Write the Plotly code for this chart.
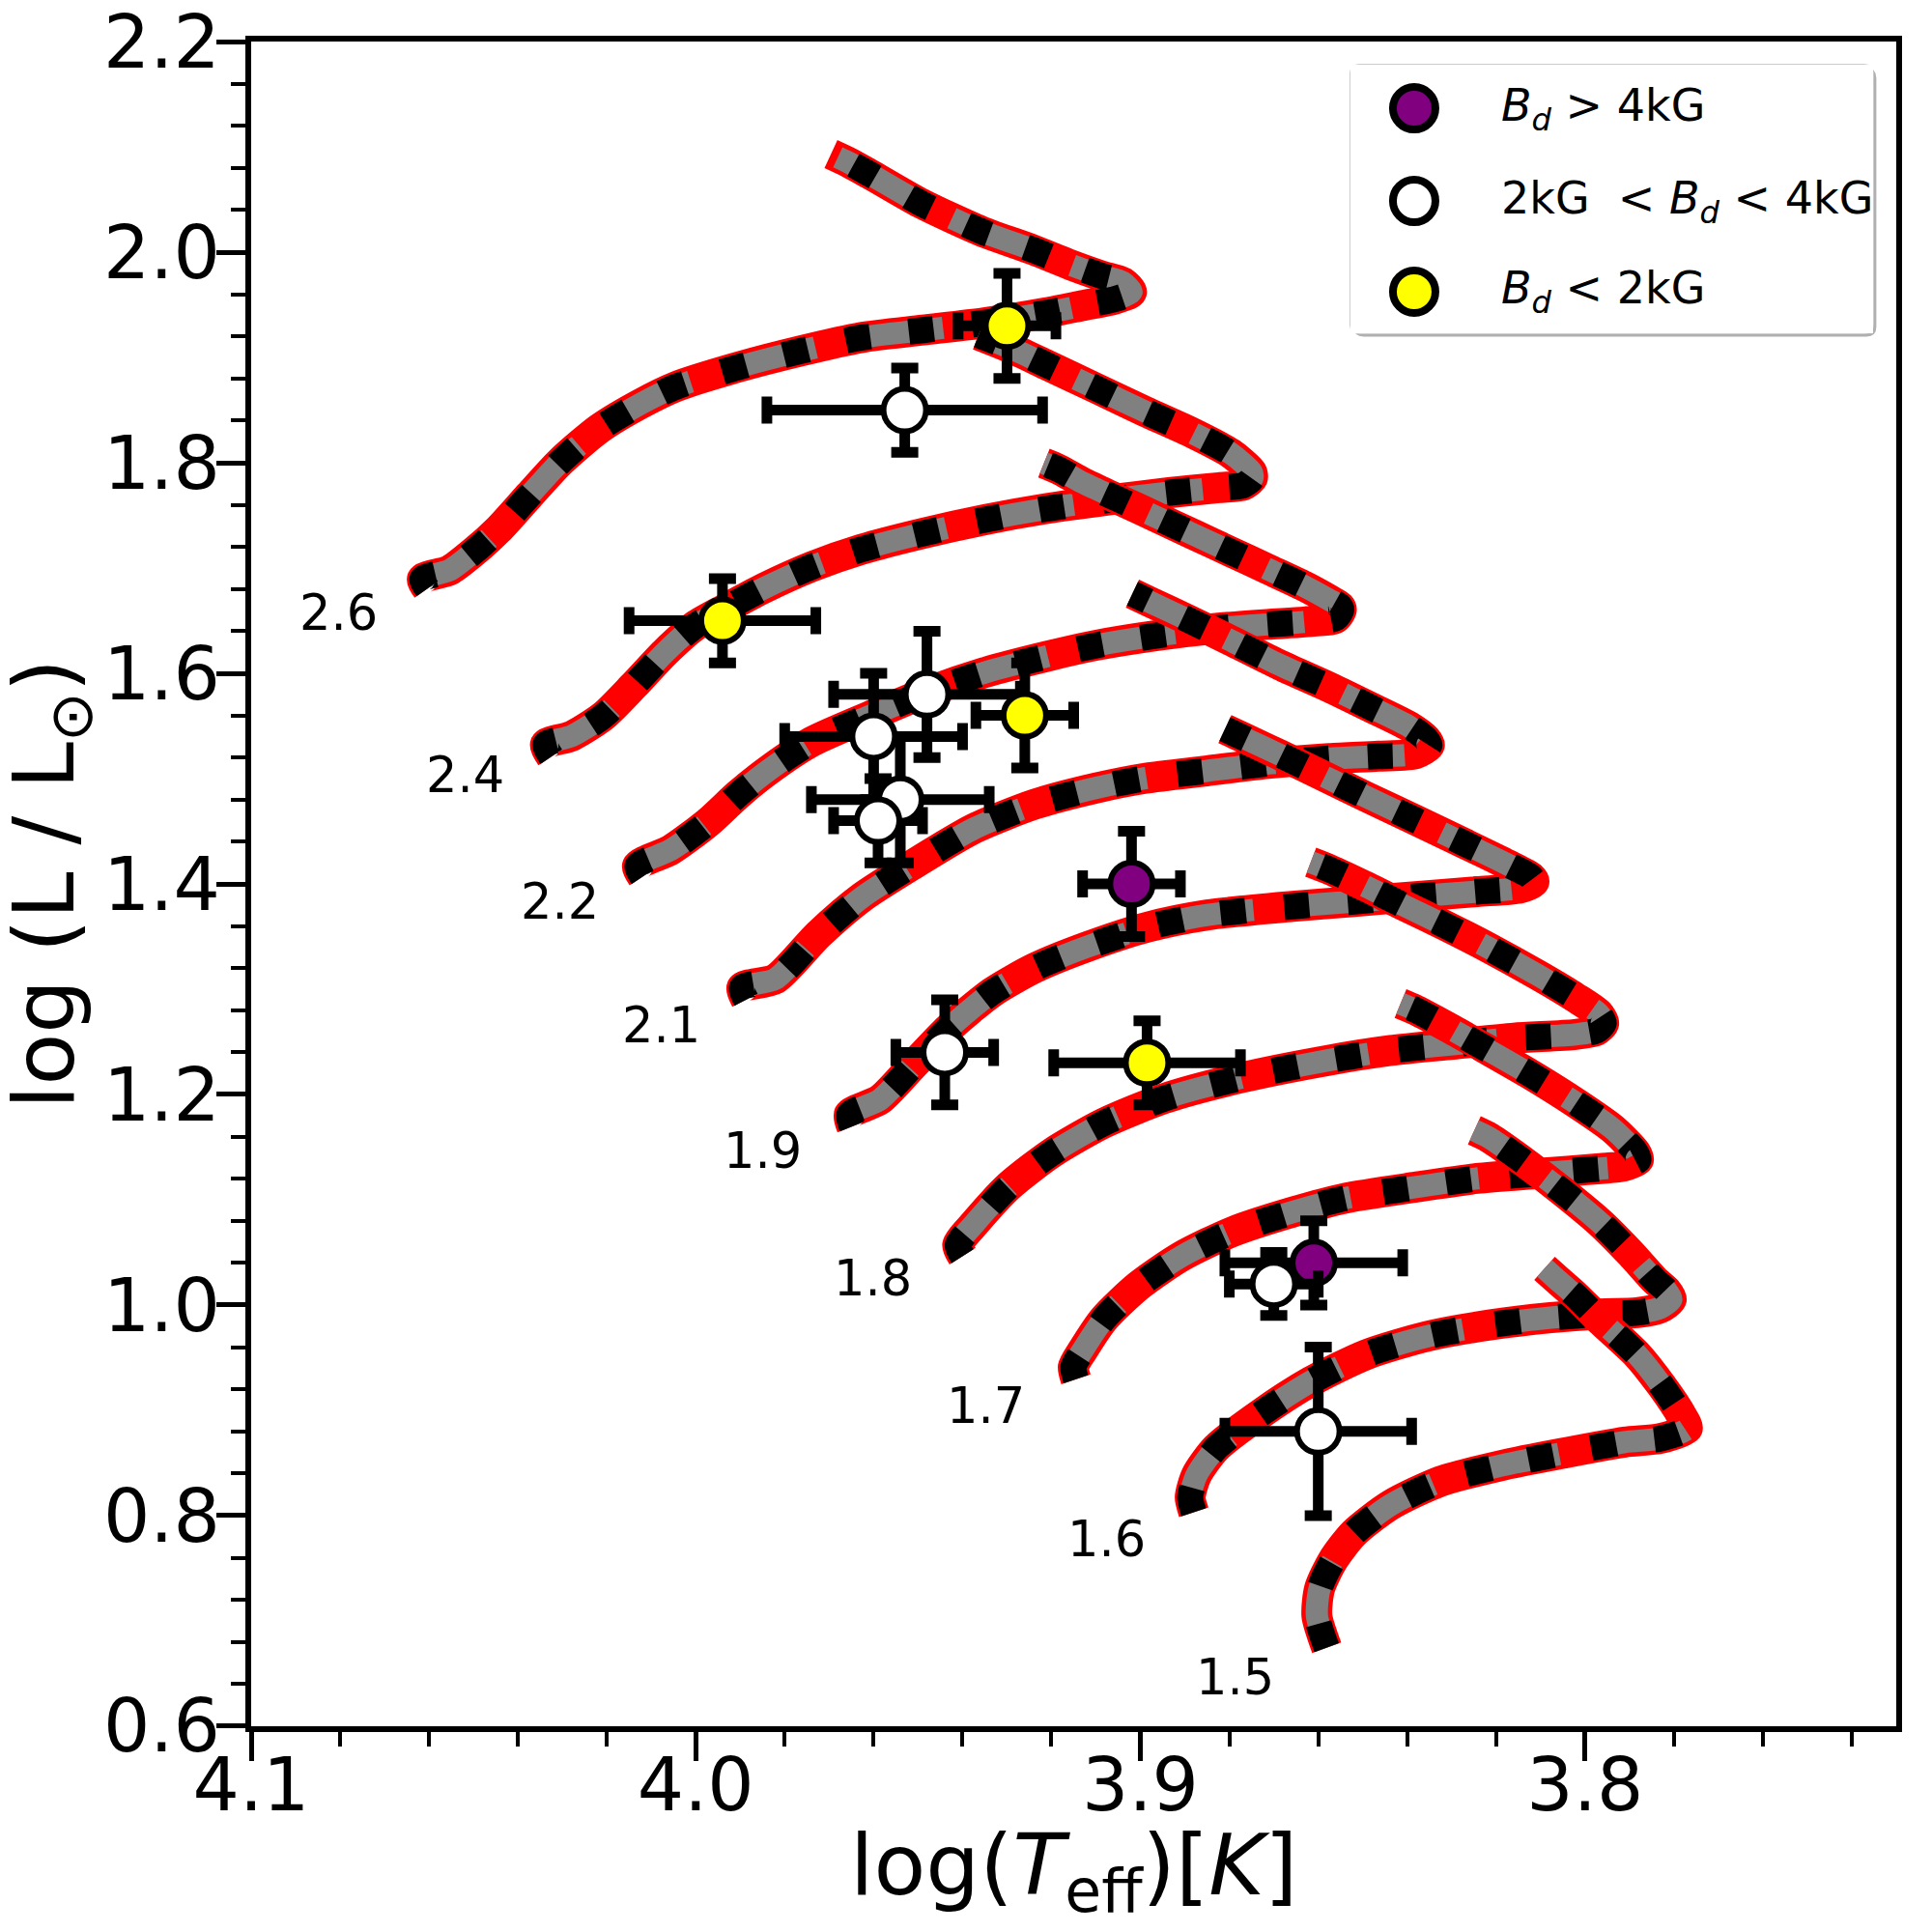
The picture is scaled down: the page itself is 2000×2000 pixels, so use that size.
import plotly.graph_objects as go

# ---- evolutionary tracks (log Teff, log L/Lsun), ZAMS end -> turn-off -> upper branch
T26_X = [4.0604, 4.0615, 4.0554, 4.0499, 4.0444, 4.0374, 4.0305, 4.0217, 4.0125, 4.0045, 3.9904, 3.9765, 3.9627, 3.9489,
         3.9350, 3.9212, 3.9129, 3.9060, 3.9020, 3.9040, 3.9087, 3.9157, 3.9240, 3.9356, 3.9494, 3.9610, 3.9655, 3.9696]
T26_Y = [1.6803, 1.6897, 1.6979, 1.7155, 1.7365, 1.7692, 1.8008, 1.8324, 1.8558, 1.8722, 1.8909, 1.9061, 1.9190, 1.9260,
         1.9330, 1.9424, 1.9494, 1.9552, 1.9622, 1.9716, 1.9775, 1.9880, 2.0020, 2.0196, 2.0465, 2.0745, 2.0850, 2.0932]

T24_X = [4.0325, 4.0338, 4.0278, 4.0208, 4.0139, 4.0070, 4.0001, 3.9932, 3.9849, 3.9738, 3.9627, 3.9489, 3.9350, 3.9212,
         3.9073, 3.8935, 3.8824, 3.8769, 3.8748, 3.8750, 3.8797, 3.8880, 3.8990, 3.9101, 3.9212, 3.9295, 3.9364]
T24_Y = [1.5208, 1.5325, 1.5407, 1.5594, 1.5886, 1.6196, 1.6453, 1.6617, 1.6804, 1.7015, 1.7178, 1.7330, 1.7459, 1.7564,
         1.7646, 1.7716, 1.7763, 1.7786, 1.7856, 1.7914, 1.8090, 1.8277, 1.8488, 1.8710, 1.8932, 1.9096, 1.9213]

T22_X = [4.0120, 4.0131, 4.0056, 3.9973, 3.9904, 3.9835, 3.9738, 3.9599, 3.9480, 3.9350, 3.9212, 3.9101, 3.8963, 3.8824,
         3.8714, 3.8631, 3.8561, 3.8548, 3.8552, 3.8575, 3.8631, 3.8714, 3.8797, 3.8880, 3.8963, 3.9046, 3.9129, 3.9184, 3.9217]
T22_Y = [1.4067, 1.4172, 1.4324, 1.4582, 1.4851, 1.5084, 1.5353, 1.5611, 1.5821, 1.6008, 1.6160, 1.6265, 1.6359, 1.6429,
         1.6465, 1.6488, 1.6523, 1.6605, 1.6640, 1.6698, 1.6827, 1.6991, 1.7155, 1.7318, 1.7482, 1.7646, 1.7809, 1.7938, 1.7997]

T21_X = [3.9887, 3.9896, 3.9821, 3.9724, 3.9627, 3.9511, 3.9375, 3.9237, 3.9101, 3.8990, 3.8852, 3.8714, 3.8575, 3.8465,
         3.8381, 3.8350, 3.8358, 3.8395, 3.8478, 3.8575, 3.8686, 3.8797, 3.8894, 3.8977, 3.9018]
T21_Y = [1.2899, 1.3016, 1.3097, 1.3519, 1.3870, 1.4185, 1.4524, 1.4758, 1.4910, 1.5003, 1.5073, 1.5143, 1.5190, 1.5213,
         1.5236, 1.5318, 1.5377, 1.5494, 1.5669, 1.5868, 1.6079, 1.6312, 1.6511, 1.6675, 1.6757]

T19_X = [3.9649, 3.9655, 3.9586, 3.9511, 3.9431, 3.9334, 3.9237, 3.9121, 3.8985, 3.8849, 3.8658, 3.8520, 3.8381, 3.8243,
         3.8146, 3.8115, 3.8122, 3.8174, 3.8271, 3.8381, 3.8492, 3.8589, 3.8686, 3.8769, 3.8810]
T19_Y = [1.1694, 1.1811, 1.1951, 1.2279, 1.2629, 1.2968, 1.3202, 1.3401, 1.3588, 1.3705, 1.3787, 1.3833, 1.3880, 1.3927,
         1.3962, 1.4020, 1.4067, 1.4184, 1.4383, 1.4605, 1.4827, 1.5026, 1.5225, 1.5389, 1.5470]

T18_X = [3.9400, 3.9411, 3.9372, 3.9295, 3.9198, 3.9082, 3.8946, 3.8772, 3.8578, 3.8437, 3.8298, 3.8160, 3.8022, 3.7975,
         3.7958, 3.7970, 3.8022, 3.8105, 3.8215, 3.8312, 3.8409, 3.8492, 3.8575, 3.8617]
T18_Y = [1.0464, 1.0570, 1.0780, 1.1131, 1.1447, 1.1728, 1.1962, 1.2160, 1.2324, 1.2418, 1.2477, 1.2535, 1.2570, 1.2605,
         1.2676, 1.2770, 1.2921, 1.3131, 1.3389, 1.3599, 1.3798, 1.3973, 1.4137, 1.4207]

T17_X = [3.9145, 3.9151, 3.9129, 3.9082, 3.9004, 3.8907, 3.8791, 3.8655, 3.8539, 3.8381, 3.8243, 3.8105, 3.7966, 3.7914,
         3.7880, 3.7887, 3.7939, 3.8022, 3.8119, 3.8215, 3.8298, 3.8381, 3.8415]
T17_Y = [0.9295, 0.9412, 0.9575, 0.9868, 1.0183, 1.0464, 1.0699, 1.0886, 1.1015, 1.1120, 1.1202, 1.1249, 1.1296, 1.1319,
         1.1378, 1.1456, 1.1678, 1.1923, 1.2181, 1.2415, 1.2614, 1.2801, 1.2863]

T16_X = [3.8880, 3.8888, 3.8874, 3.8830, 3.8733, 3.8617, 3.8492, 3.8354, 3.8215, 3.8077, 3.7966, 3.7883, 3.7830, 3.7806,
         3.7817, 3.7842, 3.7897, 3.7966, 3.8049, 3.8132, 3.8215, 3.8249]
T16_Y = [0.8032, 0.8173, 0.8383, 0.8640, 0.8956, 0.9272, 0.9529, 0.9704, 0.9810, 0.9880, 0.9915, 0.9927, 0.9974, 1.0055,
         1.0137, 1.0231, 1.0488, 1.0781, 1.1073, 1.1342, 1.1588, 1.1659]

T15_X = [3.8581, 3.8603, 3.8597, 3.8567, 3.8520, 3.8437, 3.8326, 3.8188, 3.8049, 3.7911, 3.7830, 3.7770, 3.7782, 3.7828,
         3.7883, 3.7966, 3.8022, 3.8063, 3.8091]
T15_Y = [0.6745, 0.7049, 0.7306, 0.7575, 0.7832, 0.8101, 0.8324, 0.8476, 0.8593, 0.8698, 0.8733, 0.8827, 0.8944, 0.9236,
         0.9529, 0.9856, 1.0090, 1.0242, 1.0348]

TRACKS = [(T26_X, T26_Y), (T24_X, T24_Y), (T22_X, T22_Y), (T21_X, T21_Y), (T19_X, T19_Y),
          (T18_X, T18_Y), (T17_X, T17_Y), (T16_X, T16_Y), (T15_X, T15_Y)]

# mass labels next to the ZAMS ends
MASS_LABELS = ["2.6", "2.4", "2.2", "2.1", "1.9", "1.8", "1.7", "1.6", "1.5"]
LABEL_X = [4.0803, 4.0518, 4.0305, 4.0078, 3.9849, 3.9602, 3.9347, 3.9076, 3.8788]
LABEL_Y = [1.657, 1.503, 1.383, 1.266, 1.146, 1.025, 0.904, 0.777, 0.646]

# ---- stars
STAR_TEFF = [3.930, 3.953, 3.994, 3.948, 3.926, 3.960, 3.954, 3.959, 3.902, 3.944, 3.8985, 3.861, 3.870, 3.860]
STAR_TEFF_ERR = [0.011, 0.031, 0.021, 0.021, 0.011, 0.020, 0.020, 0.010, 0.011, 0.011, 0.021, 0.020, 0.010, 0.021]
STAR_LUM = [1.93, 1.85, 1.65, 1.58, 1.56, 1.54, 1.48, 1.46, 1.40, 1.24, 1.23, 1.04, 1.02, 0.88]
STAR_LUM_ERR = [0.05, 0.04, 0.04, 0.06, 0.05, 0.06, 0.06, 0.04, 0.05, 0.05, 0.04, 0.04, 0.03, 0.08]
STAR_CLASS = ["low", "mid", "low", "mid", "low", "mid", "mid", "mid", "high", "mid", "low", "high", "mid", "mid"]

CLASSES = ["high", "mid", "low"]
CLASS_COLORS = {"high": "#800080", "mid": "#ffffff", "low": "#ffff00"}
CLASS_LABELS = {
    "high": "<i>B</i><sub><i>d</i></sub> &gt; 4kG",
    "mid": "2kG  &lt; <i>B</i><sub><i>d</i></sub> &lt; 4kG",
    "low": "<i>B</i><sub><i>d</i></sub> &lt; 2kG",
}

FONT = "DejaVu Sans"

fig = go.Figure()

# tracks: red solid, grey dashed, black dotted
for tx, ty in TRACKS:
    fig.add_trace(go.Scatter(x=tx, y=ty, mode="lines", showlegend=False, hoverinfo="skip",
                             line=dict(color="#ff0000", width=32, shape="spline", smoothing=0.7)))
    fig.add_trace(go.Scatter(x=tx, y=ty, mode="lines", showlegend=False, hoverinfo="skip",
                             line=dict(color="#808080", width=23, shape="spline", smoothing=0.7,
                                       dash="94px,40px")))
    fig.add_trace(go.Scatter(x=tx, y=ty, mode="lines", showlegend=False, hoverinfo="skip",
                             line=dict(color="#000000", width=27, shape="spline", smoothing=0.7,
                                       dash="26px,40px")))

# stars with error bars
for cls in CLASSES:
    idx = [i for i, c in enumerate(STAR_CLASS) if c == cls]
    fig.add_trace(go.Scatter(
        x=[STAR_TEFF[i] for i in idx], y=[STAR_LUM[i] for i in idx],
        mode="markers", showlegend=False,
        marker=dict(size=44, color=CLASS_COLORS[cls], line=dict(color="black", width=6)),
        error_x=dict(type="data", array=[STAR_TEFF_ERR[i] for i in idx], color="black", thickness=11, width=14),
        error_y=dict(type="data", array=[STAR_LUM_ERR[i] for i in idx], color="black", thickness=11, width=14),
    ))

# mass labels
for lab, lx, ly in zip(MASS_LABELS, LABEL_X, LABEL_Y):
    fig.add_annotation(x=lx, y=ly, text=lab, showarrow=False,
                       font=dict(family=FONT, size=51, color="black"))

# hand-made legend in an inset axis (plotly caps legend marker size)
LEG_ROWS = [0.838, 0.493, 0.155]
fig.add_trace(go.Scatter(
    x=[0.122] * 3, y=LEG_ROWS, xaxis="x2", yaxis="y2", mode="markers", showlegend=False, hoverinfo="skip",
    marker=dict(size=44, color=[CLASS_COLORS[c] for c in CLASSES], line=dict(color="black", width=8)),
))
for cls, ry in zip(CLASSES, LEG_ROWS):
    fig.add_annotation(x=0.285, y=ry, xref="x2", yref="y2", text=CLASS_LABELS[cls], showarrow=False,
                       xanchor="left", yanchor="middle", font=dict(family=FONT, size=46, color="black"))

bx0, bx1, by0, by1 = 0.6682, 0.9859, 0.8268, 0.9862
r = 0.006


def rounded(x0, y0, x1, y1, r):
    return (f"M {x0 + r},{y0} L {x1 - r},{y0} Q {x1},{y0} {x1},{y0 + r} L {x1},{y1 - r} "
            f"Q {x1},{y1} {x1 - r},{y1} L {x0 + r},{y1} Q {x0},{y1} {x0},{y1 - r} "
            f"L {x0},{y0 + r} Q {x0},{y0} {x0 + r},{y0} Z")


fig.add_shape(type="path", xref="paper", yref="paper", layer="below",
              path=rounded(bx0 + 0.002, by0 - 0.002, bx1 + 0.002, by1 - 0.002, r),
              fillcolor="#b0b0b0", line=dict(width=0))
fig.add_shape(type="path", xref="paper", yref="paper", layer="below",
              path=rounded(bx0, by0, bx1, by1, r),
              fillcolor="white", line=dict(color="#cccccc", width=2))

# axis titles as annotations so they sit exactly where the reference has them
fig.add_annotation(x=0.5, y=-0.086, xref="paper", yref="paper", showarrow=False,
                   text="log(<i>T</i><sub>eff</sub>)[<i>K</i>]", xanchor="center", yanchor="middle",
                   font=dict(family=FONT, size=88, color="black"))
fig.add_annotation(x=-0.1227, y=0.5, xref="paper", yref="paper", showarrow=False, textangle=-90,
                   text="log (L / L<sub>⊙</sub>)", xanchor="center", yanchor="middle",
                   font=dict(family=FONT, size=88, color="black"))

axis_common = dict(
    showgrid=False, zeroline=False, showline=True, linecolor="black", linewidth=6, mirror=True,
    ticks="outside", ticklen=30, tickwidth=5, tickcolor="black", automargin=False,
    ticklabeloverflow="allow",
    tickfont=dict(family=FONT, size=76, color="black"), tickformat=".1f",
)

fig.update_layout(
    width=2000, height=2000,
    # page body adds an 8px offset, margins compensate for it
    margin=dict(l=252, r=45, t=35, b=221),
    paper_bgcolor="white", plot_bgcolor="white",
    font=dict(family=FONT, color="black"),
    xaxis=dict(range=[4.1, 3.73], tick0=3.8, dtick=0.1, ticklabelstandoff=-40,
               minor=dict(dtick=0.02, tick0=3.8, ticks="outside", ticklen=15, tickwidth=4, tickcolor="black",
                          showgrid=False),
               **axis_common),
    yaxis=dict(range=[0.5999, 2.2001], tick0=0.6, dtick=0.2, ticklabelstandoff=-19,
               minor=dict(dtick=0.04, tick0=0.6, ticks="outside", ticklen=15, tickwidth=4, tickcolor="black",
                          showgrid=False),
               **axis_common),
    xaxis2=dict(domain=[bx0, bx1], range=[0, 1], anchor="y2", visible=False, fixedrange=True),
    yaxis2=dict(domain=[by0, by1], range=[0, 1], anchor="x2", visible=False, fixedrange=True),
)

fig.write_html("out.html")
